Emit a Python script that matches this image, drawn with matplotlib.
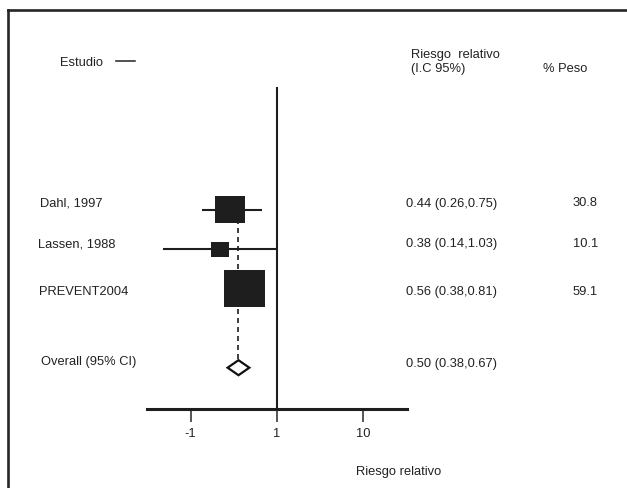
import numpy as np
import matplotlib
matplotlib.use("Agg")
import matplotlib.pyplot as plt
from matplotlib.lines import Line2D
from matplotlib.patches import Polygon

plt.rcParams['font.family'] = ['Liberation Sans', 'DejaVu Sans']

# data (relative risk as drawn on the log axis)
studies = ['Dahl, 1997', 'Lassen, 1988', 'PREVENT2004']
rr = [0.285, 0.219, 0.42]
ci_lo = [0.136, 0.048, 0.28]
ci_hi = [0.676, 1.0, 0.63]
weights = [30.8, 10.1, 59.1]
rr_text = ['0.44 (0.26,0.75)', '0.38 (0.14,1.03)', '0.56 (0.38,0.81)']
overall_label = 'Overall (95% CI)'
overall_rr = 0.358
overall_lo = 0.268
overall_hi = 0.478
overall_text = '0.50 (0.38,0.67)'
ticks = [0.1, 1, 10]
tick_labels = ['-1', '1', '10']

W, H = 627, 489
fig = plt.figure(figsize=(W / 100, H / 100), dpi=100)

def fx(px):
    return px / W

def fy(py):
    return 1 - py / H

# plot area
ax = fig.add_axes([fx(147), fy(409.5), fx(407) - fx(147), fy(89) - fy(409.5)])
ax.set_xscale('log')
ax.set_xlim(10 ** -1.506, 10 ** 1.506)
ax.set_ylim(6.033, -2.081)
for s in ['left', 'top', 'right']:
    ax.spines[s].set_visible(False)
ax.spines['bottom'].set_linewidth(2.2)
ax.spines['bottom'].set_color('#1e1e1e')
ax.set_yticks([])
ax.set_xticks(ticks)
ax.set_xticklabels(tick_labels)
ax.xaxis.set_minor_locator(matplotlib.ticker.NullLocator())
ax.tick_params(axis='x', direction='out', length=9, width=1.4, color='#555555',
               pad=4, labelsize=9.3, labelcolor='#222222')
ax.patch.set_visible(False)

rows = np.arange(1, len(studies) + 1)
overall_row = len(studies) + 2
dh = 0.19  # diamond half height in rows

# line of no effect
ax.plot([1, 1], [-2.081, 6.033], color='#1e1e1e', lw=1.5, zorder=2, clip_on=False)

# overall dashed line
ax.plot([overall_rr, overall_rr], [rows[0], overall_row - dh], color='#1e1e1e',
        lw=1.2, ls=(0, (3.0, 2.4)), zorder=1)

# confidence intervals
ax.hlines(rows, ci_lo, ci_hi, color='#1e1e1e', lw=1.5, zorder=3)

# weighted boxes
box = [(-1, -0.88), (1, -0.88), (1, 0.88), (-1, 0.88), (-1, -0.88)]
ax.scatter(rr, rows, s=[15.4 * w for w in weights], marker=box,
           color='#1e1e1e', linewidths=0, zorder=4)

# overall diamond
diamond = Polygon([(overall_lo, overall_row), (overall_rr, overall_row - dh),
                   (overall_hi, overall_row), (overall_rr, overall_row + dh)],
                  closed=True, facecolor='white', edgecolor='#111111', lw=1.6, zorder=5)
ax.add_patch(diamond)

# frame (left and top lines)
fig.add_artist(Line2D([fx(8), fx(8)], [fy(11), 0], color='#262626', lw=1.9))
fig.add_artist(Line2D([fx(8), 1], [fy(11), fy(11)], color='#262626', lw=1.9))

txt = dict(fontsize=9.3, color='#222222', va='baseline')

# header
fig.text(fx(60), fy(66.3), 'Estudio', **txt)
fig.add_artist(Line2D([fx(116), fx(135)], [fy(62), fy(62)], color='#222222', lw=1.1))
fig.text(fx(410.7), fy(58.3), 'Riesgo  relativo', **txt)
fig.text(fx(410.7), fy(71.7), '(I.C 95%)', **txt)
fig.text(fx(542.7), fy(71.7), '% Peso', **txt)

# rows of text
label_x = [40, 38.5, 39.3]
baselines = [206.5, 247.5, 295]
for i in range(len(studies)):
    fig.text(fx(label_x[i]), fy(baselines[i]), studies[i], **txt)
    fig.text(fx(406), fy(baselines[i]), rr_text[i], **txt)
    fig.text(fx(598), fy(baselines[i]), '%.1f' % weights[i], ha='right',
             fontsize=9.3, color='#222222', va='baseline')
fig.text(fx(41), fy(365.5), overall_label, **txt)
fig.text(fx(406), fy(366.5), overall_text, **txt)

fig.text(fx(356.5), fy(475), 'Riesgo relativo', **txt)

fig.savefig('out.png', dpi=100)
